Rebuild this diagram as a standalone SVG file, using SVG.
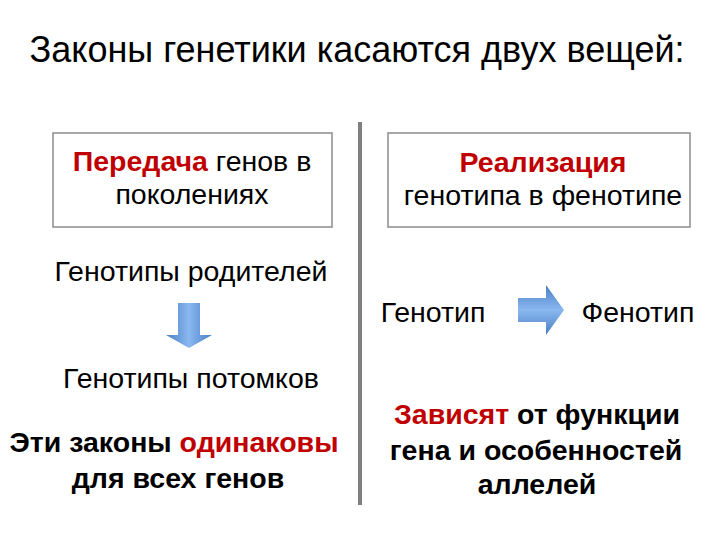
<svg xmlns="http://www.w3.org/2000/svg" width="720" height="540" viewBox="0 0 720 540">
<defs>
<linearGradient id="gv" x1="0" y1="0" x2="1" y2="0">
<stop offset="0" stop-color="#4a7fc4"/><stop offset="0.5" stop-color="#8ab8f0"/><stop offset="1" stop-color="#4a7fc4"/>
</linearGradient>
<linearGradient id="gh" x1="0" y1="0" x2="0" y2="1">
<stop offset="0" stop-color="#4a7fc4"/><stop offset="0.5" stop-color="#8ab8f0"/><stop offset="1" stop-color="#4a7fc4"/>
</linearGradient>
<style>
text{font-family:"Liberation Sans",Arial,sans-serif;fill:#000;}
.t{font-size:28.5px;}
.b{font-size:28.5px;font-weight:bold;}
.r{fill:#c00000;}
.box{fill:#fff;stroke:#8c8c8c;stroke-width:1.5;}
</style>
</defs>
<rect width="720" height="540" fill="#fff"/>
<text x="357" y="62" font-size="36" text-anchor="middle">Законы генетики касаются двух вещей:</text>
<g id="divider"><line x1="360" y1="122" x2="360" y2="505" stroke="#7f7f7f" stroke-width="4"/></g>
<g id="box-left">
<rect class="box" x="53" y="133" width="279" height="94"/>
<text class="t" x="192" y="171" text-anchor="middle"><tspan class="b r">Передача</tspan> генов в</text>
<text class="t" x="192" y="204" text-anchor="middle">поколениях</text>
</g>
<g id="box-right">
<rect class="box" x="388" y="133" width="302" height="94"/>
<text class="b r" x="543" y="172" text-anchor="middle">Реализация</text>
<text class="t" x="543" y="205" text-anchor="middle">генотипа в фенотипе</text>
</g>
<g id="parents"><text class="t" x="191" y="281" text-anchor="middle">Генотипы родителей</text></g>
<g id="children"><text class="t" x="191" y="388" text-anchor="middle">Генотипы потомков</text></g>
<g id="genotype"><text class="t" x="433" y="322" text-anchor="middle">Генотип</text></g>
<g id="phenotype"><text class="t" x="638" y="322" text-anchor="middle">Фенотип</text></g>
<g id="left-note">
<text class="b" x="174" y="452" text-anchor="middle">Эти законы <tspan class="r">одинаковы</tspan></text>
<text class="b" x="178" y="488" text-anchor="middle">для всех генов</text>
</g>
<g id="right-note">
<text class="b" x="537" y="424" text-anchor="middle"><tspan class="r">Зависят</tspan> от функции</text>
<text class="b" x="536" y="460" text-anchor="middle">гена и особенностей</text>
<text class="b" x="537" y="494" text-anchor="middle">аллелей</text>
</g>
<g id="connectors">
<polygon points="178,303 200,303 200,335 212,335 189,348 166,335 178,335" fill="url(#gv)"/>
<polygon points="518,298 546,298 546,285 564,310 546,335 546,322 518,322" fill="url(#gh)"/>
</g>
</svg>
